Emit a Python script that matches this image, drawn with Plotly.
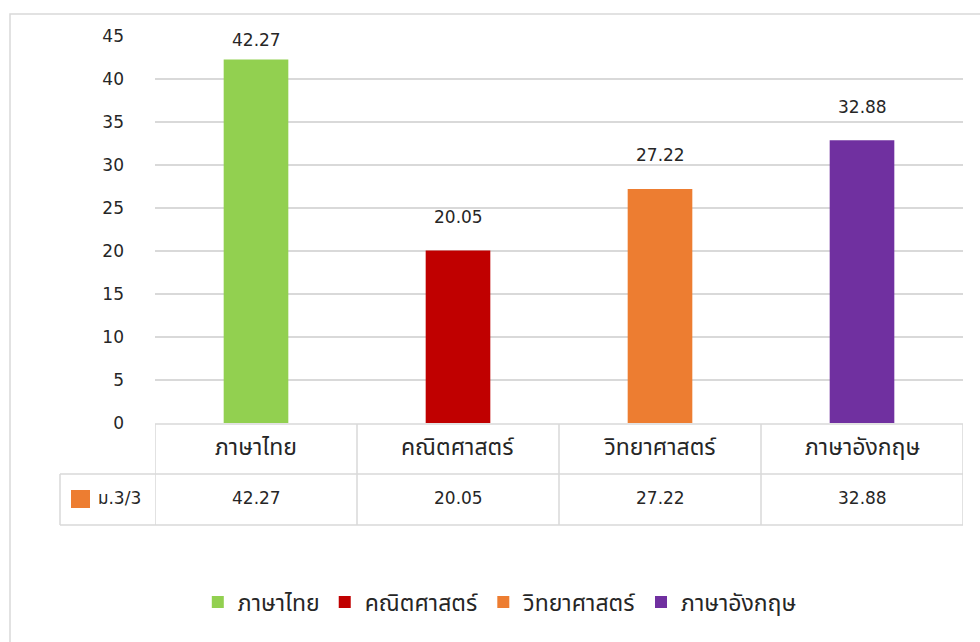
import plotly.graph_objects as go

subjects = ["ภาษาไทย", "คณิตศาสตร์", "วิทยาศาสตร์", "ภาษาอังกฤษ"]
scores = [42.27, 20.05, 27.22, 32.88]
colors = ["#92D050", "#C00000", "#ED7D31", "#7030A0"]
series_name = "ม.3/3"
series_color = "#ED7D31"
y_ticks = [0, 5, 10, 15, 20, 25, 30, 35, 40, 45]
y_max = 45

W, H = 980, 642
FONT = "'DejaVu Sans', 'Noto Sans Thai', 'Noto Sans', sans-serif"
TXT = "#262626"
GRID = "#D9D9D9"
NUM_SIZE = 17
THAI_SIZE = 23


def px_x(p):
    return p / W


def px_y(p):
    return 1 - p / H


fig = go.Figure()

for name, val, col in zip(subjects, scores, colors):
    fig.add_trace(go.Bar(
        x=[name], y=[val], name=name,
        marker=dict(color=col, line=dict(width=0)),
        width=0.32,
    ))

# data labels above bars (kept inside the plot area like Excel does)
for name, val in zip(subjects, scores):
    fig.add_annotation(x=name, y=min(val + 3.9, y_max - 0.45), text=f"{val:.2f}",
                       showarrow=False, xanchor="center", yanchor="middle",
                       font=dict(size=NUM_SIZE, color=TXT, family=FONT))

shapes = []
row_top, row_mid, row_bot = px_y(424), px_y(474), px_y(525)
key_left = px_x(60)

# table horizontal lines
shapes.append(dict(type="line", xref="x", yref="paper", x0=-0.5, x1=len(subjects) - 0.5,
                   y0=row_top, y1=row_top, line=dict(color=GRID, width=1.5)))
for yy in (row_mid, row_bot):
    shapes.append(dict(type="line", xref="paper", yref="paper", x0=key_left, x1=px_x(963),
                       y0=yy, y1=yy, line=dict(color=GRID, width=1.5)))
# table vertical lines
for i in range(len(subjects) + 1):
    shapes.append(dict(type="line", xref="x", yref="paper", x0=i - 0.5, x1=i - 0.5,
                       y0=row_top, y1=row_bot, line=dict(color=GRID, width=1.5)))
shapes.append(dict(type="line", xref="paper", yref="paper", x0=key_left, x1=key_left,
                   y0=row_mid, y1=row_bot, line=dict(color=GRID, width=1.5)))
# series key in table
shapes.append(dict(type="rect", xref="paper", yref="paper",
                   x0=px_x(71), x1=px_x(90), y0=px_y(508), y1=px_y(490),
                   fillcolor=series_color, line=dict(width=0)))
# chart border
shapes.append(dict(type="rect", xref="paper", yref="paper",
                   x0=px_x(10), x1=1.02, y0=-0.02, y1=px_y(14),
                   line=dict(color=GRID, width=1.5), fillcolor="rgba(0,0,0,0)"))

# table texts
for name, val in zip(subjects, scores):
    fig.add_annotation(x=name, y=px_y(447), yref="paper", text=name,
                       xanchor="center", yanchor="middle", showarrow=False,
                       font=dict(size=THAI_SIZE, color=TXT, family=FONT))
    fig.add_annotation(x=name, y=px_y(498), yref="paper", text=f"{val:.2f}",
                       xanchor="center", yanchor="middle", showarrow=False,
                       font=dict(size=NUM_SIZE, color=TXT, family=FONT))
fig.add_annotation(x=px_x(96), xref="paper", y=px_y(498), yref="paper",
                   text=series_name, xanchor="left", yanchor="middle", showarrow=False,
                   font=dict(size=NUM_SIZE, color=TXT, family=FONT))

fig.update_layout(
    width=W, height=H,
    margin=dict(l=0, r=0, t=0, b=0, autoexpand=False),
    paper_bgcolor="white",
    plot_bgcolor="white",
    barmode="overlay",
    font=dict(family=FONT, size=NUM_SIZE, color=TXT),
    shapes=shapes,
    xaxis=dict(
        domain=[px_x(155), px_x(963)],
        showticklabels=False, showgrid=False, zeroline=False, showline=False,
        range=[-0.5, len(subjects) - 0.5],
    ),
    yaxis=dict(
        domain=[px_y(423), px_y(36)],
        range=[0, y_max], tickvals=y_ticks,
        showgrid=True, gridcolor=GRID, gridwidth=1.5,
        zeroline=False, showline=False, ticks="",
        ticklabelstandoff=30,
        tickfont=dict(size=NUM_SIZE, color=TXT, family=FONT),
    ),
    showlegend=True,
    legend=dict(
        orientation="h", x=0.51, xanchor="center", y=px_y(602), yanchor="middle",
        font=dict(size=THAI_SIZE, color=TXT, family=FONT),
        bgcolor="rgba(0,0,0,0)",
    ),
)

fig.write_html("out.html", config={"displayModeBar": False},
               post_script="document.body.style.margin='0';")
